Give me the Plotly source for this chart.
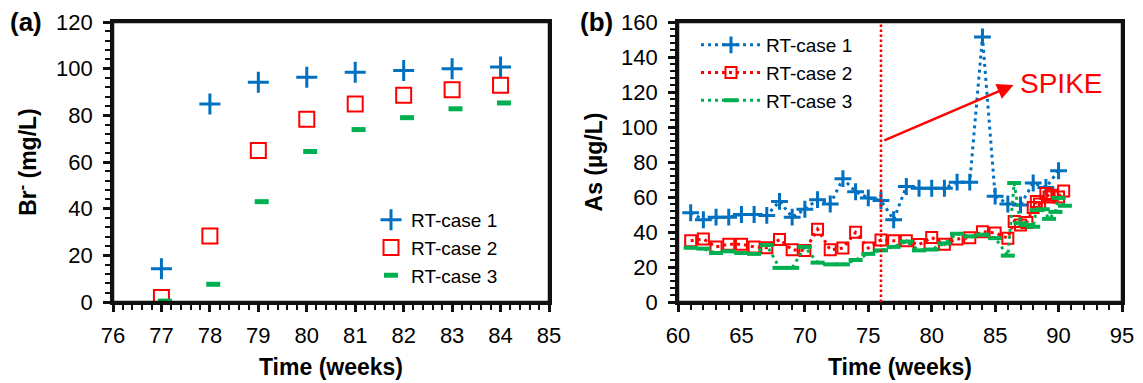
import plotly.graph_objects as go

# ---------------- Data ----------------
# Panel (a): Br- (mg/L)
a_weeks = [77, 78, 79, 80, 81, 82, 83, 84]
a_case3_weeks = [77.07, 78.07, 79.07, 80.07, 81.07, 82.07, 83.07, 84.07]
a_case1 = [14.3, 84.9, 94.2, 96.3, 98.5, 99.2, 100.0, 100.7]
a_case2 = [1.9, 28.3, 64.9, 78.3, 84.9, 88.6, 91.0, 92.9]
a_case3 = [0.4, 7.6, 43.0, 64.5, 73.9, 79.0, 82.8, 85.3]

# Panel (b): As (ug/L)
b1_weeks = list(range(61, 91))
b1_vals = [51, 47, 48.5, 48.5, 50, 50, 49.5, 57.5, 48.5, 53, 58.5, 56, 70.5, 63, 59.5,
           58, 47, 66, 65, 65, 65, 68.5, 68.5, 151.5, 60.5, 56, 55.5, 68, 65.5, 75]

b2_weeks = list(range(61, 86)) + [86, 86.5, 87, 87.5, 88, 88.25, 88.5, 89, 89.25, 89.5, 90, 90.4]
b2_vals = [35, 36, 31.5, 33, 33, 31.5, 31, 35.7, 29.8, 29.4, 41.6, 29.8, 30.8, 39.8, 30.8,
           35.5, 35, 35, 32.8, 36.8, 33, 36, 36.7, 40.2, 39.5,
           36.5, 46, 44, 45.5, 54, 57.5, 56, 62, 60, 61, 60, 63.5]

b3_weeks = list(range(61, 87)) + [86.5, 87, 87.5, 88, 88.25, 88.75, 89.25, 89.75, 90, 90.5]
b3_vals = [31, 30.5, 28, 29, 28, 27.5, 32.5, 19.5, 19.5, 31.5, 22.5, 21.5, 21.5, 24, 27.5,
           29.5, 31.5, 34.5, 29.5, 30, 33.5, 39, 37.5, 38.5, 36.5, 26.5,
           68, 45, 44, 43, 52.5, 53, 47.5, 51.5, 59.5, 55]

series_names = ["RT-case 1", "RT-case 2", "RT-case 3"]
spike_week = 76
arrow_tail = (76.15, 92)
arrow_head = (86.45, 124)
spike_label_pos = (86.8, 125)

BLUE = "#0070C0"
RED = "#FF0000"
GREEN = "#00B050"
BLACK = "#111111"
FONT = "Arial, Liberation Sans, sans-serif"
NBSP = "\u00a0"

fig = go.Figure()

# Panel (a)
fig.add_trace(go.Scatter(x=a_weeks, y=a_case1, mode="markers", name=series_names[0],
                         marker=dict(symbol="cross-thin", size=15, line=dict(color=BLUE, width=3)),
                         xaxis="x", yaxis="y", legend="legend"))
fig.add_trace(go.Scatter(x=a_weeks, y=a_case2, mode="markers", name=series_names[1],
                         marker=dict(symbol="square-open", size=15, color=RED, line=dict(color=RED, width=2)),
                         xaxis="x", yaxis="y", legend="legend"))
fig.add_trace(go.Scatter(x=a_case3_weeks, y=a_case3, mode="markers", name=series_names[2],
                         marker=dict(symbol="line-ew", size=10, line=dict(color=GREEN, width=5)),
                         xaxis="x", yaxis="y", legend="legend"))

# Panel (b)
fig.add_trace(go.Scatter(x=b1_weeks, y=b1_vals, mode="lines+markers", name=series_names[0],
                         line=dict(color=BLUE, width=3, dash="3px,4px"),
                         marker=dict(symbol="cross-thin", size=12, line=dict(color=BLUE, width=3)),
                         xaxis="x2", yaxis="y2", legend="legend2"))
fig.add_trace(go.Scatter(x=b2_weeks, y=b2_vals, mode="lines+markers", name=series_names[1],
                         line=dict(color=RED, width=3, dash="3px,4px"),
                         marker=dict(symbol="square-open", size=11, color=RED, line=dict(color=RED, width=2)),
                         xaxis="x2", yaxis="y2", legend="legend2"))
fig.add_trace(go.Scatter(x=b3_weeks, y=b3_vals, mode="lines+markers", name=series_names[2],
                         line=dict(color=GREEN, width=3, dash="3px,4px"),
                         marker=dict(symbol="line-ew", size=10, line=dict(color=GREEN, width=4)),
                         xaxis="x2", yaxis="y2", legend="legend2"))

AX_LINE = dict(showline=True, linecolor=BLACK, linewidth=2.5, mirror=True, showgrid=False,
               zeroline=False, ticks="outside", ticklen=7, tickwidth=2.5, tickcolor=BLACK,
               tickfont=dict(family=FONT, size=22, color="#000000"))
TITLE_FONT = dict(family=FONT, size=23, color="#000000")
MINOR = dict(ticks="outside", ticklen=5, tickwidth=2, tickcolor=BLACK)

dom_a = [113 / 1143, 549 / 1143]
dom_b = [678 / 1143, 1122 / 1143]
dom_y = [1 - 302 / 383, 1 - 22 / 383]

fig.update_layout(
    template="none",
    width=1143, height=383, margin=dict(l=0, r=0, t=0, b=0, pad=0),
    paper_bgcolor="white", plot_bgcolor="white",
    font=dict(family=FONT, color="#000000"),
    xaxis=dict(domain=dom_a, anchor="y", range=[76, 85], dtick=1, **AX_LINE,
               minor=dict(dtick=0.2, **MINOR), ticklabelstandoff=5,
               title=dict(text="<b>Time (weeks)</b>", font=TITLE_FONT, standoff=12)),
    yaxis=dict(domain=dom_y, anchor="x", range=[0, 120], dtick=20, **AX_LINE,
               minor=dict(dtick=4, **MINOR), ticksuffix=NBSP,
               title=dict(text="<b>Br<sup>-</sup> (mg/L)</b>", font=TITLE_FONT, standoff=13)),
    xaxis2=dict(domain=dom_b, anchor="y2", range=[60, 95], dtick=5, **AX_LINE,
                minor=dict(dtick=1, **MINOR), ticklabelstandoff=5,
                title=dict(text="<b>Time (weeks)</b>", font=TITLE_FONT, standoff=12)),
    yaxis2=dict(domain=dom_y, anchor="x2", range=[0, 160], dtick=20, **AX_LINE,
                minor=dict(dtick=4, **MINOR), ticksuffix=NBSP,
                title=dict(text="<b>As (µg/L)</b>", font=TITLE_FONT, standoff=12)),
    legend=dict(x=371 / 1143, y=1 - 201 / 383, xanchor="left", yanchor="top",
                bgcolor="rgba(0,0,0,0)", borderwidth=0,
                font=dict(family=FONT, size=19, color="#000000"),
                tracegroupgap=0, itemwidth=30),
    legend2=dict(x=696 / 1143, y=1 - 26 / 383, xanchor="left", yanchor="top",
                 bgcolor="rgba(0,0,0,0)", borderwidth=0,
                 font=dict(family=FONT, size=19, color="#000000"),
                 tracegroupgap=0, itemwidth=60),
    showlegend=True,
)

# plot frames drawn as four edge lines per panel (axis-domain coordinates)
for xr, yr in (("x domain", "y domain"), ("x2 domain", "y2 domain")):
    for (x0, y0, x1, y1) in ((0, 0, 1, 0), (0, 1, 1, 1), (0, 0, 0, 1), (1, 0, 1, 1)):
        fig.add_shape(type="line", xref=xr, yref=yr, x0=x0, y0=y0, x1=x1, y1=y1,
                      line=dict(color=BLACK, width=2.5), layer="above")

# vertical dotted spike line
fig.add_shape(type="line", xref="x2", yref="y2 domain", x0=spike_week, x1=spike_week, y0=0, y1=1,
              line=dict(color=RED, width=2.5, dash="2.5px,2.5px"))

# arrow and label
fig.add_annotation(xref="x2", yref="y2", axref="x2", ayref="y2",
                   x=arrow_head[0], y=arrow_head[1], ax=arrow_tail[0], ay=arrow_tail[1],
                   text="", showarrow=True, arrowhead=2, arrowsize=1.3, arrowwidth=2.5,
                   arrowcolor=RED, standoff=0, startstandoff=0)
fig.add_annotation(xref="x2", yref="y2", x=spike_label_pos[0], y=spike_label_pos[1],
                   text="SPIKE", showarrow=False, xanchor="left", yanchor="middle",
                   font=dict(family=FONT, size=28, color=RED))

# panel labels
fig.add_annotation(xref="paper", yref="paper", x=8 / 1143, y=1 - 22 / 383, text="<b>(a)</b>",
                   showarrow=False, xanchor="left", yanchor="middle",
                   font=dict(family=FONT, size=26, color="#000000"))
fig.add_annotation(xref="paper", yref="paper", x=578 / 1143, y=1 - 22 / 383, text="<b>(b)</b>",
                   showarrow=False, xanchor="left", yanchor="middle",
                   font=dict(family=FONT, size=26, color="#000000"))

fig.write_html("out.html", config={"displayModeBar": False},
               post_script="document.body.style.margin='0px';")
